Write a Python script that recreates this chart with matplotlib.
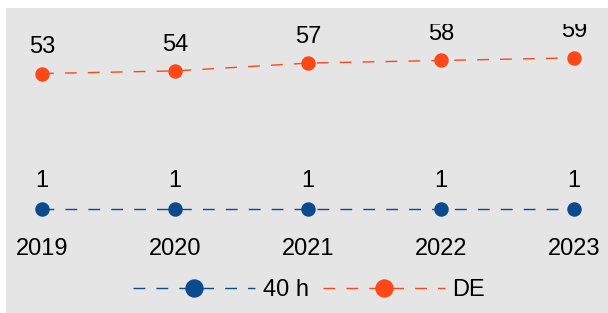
# Line chart: weekly hours (40 h) vs DE index, 2019-2023
import matplotlib
matplotlib.use('Agg')
import matplotlib.pyplot as plt
from matplotlib import font_manager
from matplotlib.transforms import Bbox, TransformedBbox

years = [2019, 2020, 2021, 2022, 2023]
hours_40h = [1, 1, 1, 1, 1]
de_values = [53, 54, 57, 58, 59]
series_names = ['40 h', 'DE']

BLUE = '#0b4a8c'
ORANGE = '#ff4718'
PANEL = '#e5e5e5'

installed = {f.name for f in font_manager.fontManager.ttflist}
family = 'Liberation Sans Narrow' if 'Liberation Sans Narrow' in installed else 'Liberation Sans'
plt.rcParams['font.family'] = [family, 'DejaVu Sans']

W, H = 608, 313
fig = plt.figure(figsize=(W / 100, H / 100), dpi=100, facecolor='white')

# grey panel (white strip at top and left)
fig.patches.append(plt.Rectangle((6 / W, 0), 1 - 6 / W, 1 - 8 / H,
                                 transform=fig.transFigure, facecolor=PANEL,
                                 edgecolor='none', zorder=-5))

# axes in pixel terms: x from 42 to 574, y from 209 (bottom) to 24 (top)
ax = fig.add_axes([42 / W, (H - 209) / H, (574 - 42) / W, (209 - 24) / H])
ax.patch.set_visible(False)
ax.set_zorder(2)
ax.set_xlim(years[0], years[-1])
ax.set_ylim(1, 72)

l1, = ax.plot(years, hours_40h, color=BLUE, lw=1, dashes=(8.5, 8),
              marker='o', ms=9.4, clip_on=False, label=series_names[0])
l2, = ax.plot(years, de_values, color=ORANGE, lw=1, dashes=(8.5, 8),
              marker='o', ms=9.4, clip_on=False, label=series_names[1])

fs = 17 if family == 'Liberation Sans' else 19
# labels are cut only at the top edge of the plot area
top_clip = TransformedBbox(Bbox([[-0.5, -0.5], [1.5, 1]]), ax.transAxes)
for vals, off in ((hours_40h, 20), (de_values, 19)):
    for x, y in zip(years, vals):
        t = ax.annotate(str(y), (x, y), xytext=(0, off), textcoords='offset points',
                        ha='center', va='center', fontsize=fs, color='black',
                        annotation_clip=False)
        t.set_clip_box(top_clip)
        t.set_clip_on(True)

for s in ax.spines.values():
    s.set_visible(False)
ax.set_yticks([])
ax.set_xticks(years)
ax.set_xticklabels([str(y) for y in years], fontsize=fs)
ax.tick_params(axis='x', length=0, pad=21)

leg = fig.legend(handles=[l1, l2], loc='center', bbox_to_anchor=(309 / W, 1 - 290 / H),
                 ncol=2, frameon=False, fontsize=fs, handlelength=5.2,
                 handletextpad=0.3, columnspacing=0.6, markerscale=1.3,
                 borderaxespad=0, borderpad=0)
leg.set_zorder(3)

fig.savefig('out.png', dpi=100, facecolor='white')
